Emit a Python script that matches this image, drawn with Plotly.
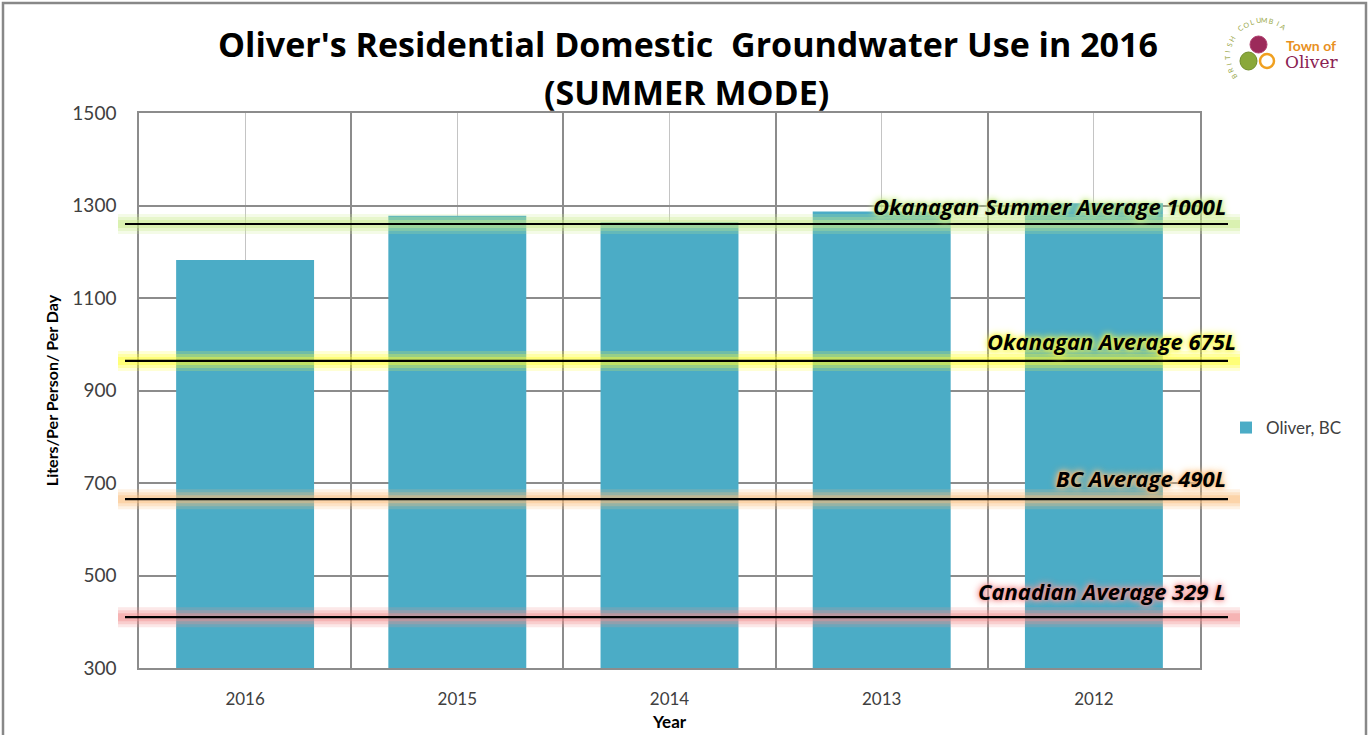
import math
import plotly.graph_objects as go

# ---------------- data ----------------
years = ["2016", "2015", "2014", "2013", "2012"]
usage = [1182, 1278, 1264, 1287, 1305]
series_name = "Oliver, BC"

ref_labels = ["Okanagan Summer Average 1000L", "Okanagan Average 675L",
              "BC Average 490L", "Canadian Average 329 L"]
ref_levels = [1260, 964, 665, 410]

y_ticks = [300, 500, 700, 900, 1100, 1300, 1500]

title_line1 = "Oliver's Residential Domestic  Groundwater Use in 2016"
title_line2 = "(SUMMER MODE)"

# ---------------- styles ----------------
W, H = 1372, 735
ML, MR, MT, MB = 139, 172, 113, 67
PW, PH = W - ML - MR, H - MT - MB

def px(x):
    return (x - ML) / PW

def py(y):
    return 1 - (y - MT) / PH

bar_color = "#4bacc6"
glow_colors = ["#c9ec8a", "#ffff33", "#fbbf7e", "#f28f8f"]
label_shadow = ["#c9ec8a", "#f7f74a", "#fbbf7e", "#f39a9a"]
label_right = [1228, 1238, 1228, 1228]
label_shift = [18, 20, 21, 26]
FONT = "Lato, 'Open Sans', sans-serif"
FONT_B = "'Open Sans', Lato, sans-serif"

fig = go.Figure()
fig.add_trace(go.Bar(
    x=list(range(len(years))), y=usage, name=series_name,
    marker=dict(color=bar_color, line=dict(width=0)),
    width=0.65,
))

shapes = []
annotations = []
x0, x1 = px(125), px(1228)
gx0, gx1 = px(118), px(1240)
for lvl, gc, lab, sc, rx, ys in zip(ref_levels, glow_colors, ref_labels,
                                    label_shadow, label_right, label_shift):
    for w, op in [(20, 0.2), (14, 0.28), (8, 0.4)]:
        shapes.append(dict(type="line", xref="paper", yref="y",
                           x0=gx0, x1=gx1, y0=lvl, y1=lvl, layer="above",
                           line=dict(color=gc, width=w), opacity=op))
    shapes.append(dict(type="line", xref="paper", yref="y",
                       x0=x0, x1=x1, y0=lvl, y1=lvl, layer="above",
                       line=dict(color="black", width=2.2)))
    annotations.append(dict(
        text=lab, xref="paper", yref="y", x=px(rx), y=lvl, yshift=ys,
        xanchor="right", yanchor="middle", showarrow=False,
        font=dict(family=FONT_B, size=22, color="black", weight="bold",
                  style="italic",
                  shadow=f"0 0 3px {sc}, 0 0 6px {sc}, 0 0 8px {sc}")))

# outer chart border
shapes.append(dict(type="rect", xref="paper", yref="paper",
                   x0=px(3), x1=px(1366), y0=py(735 + 5), y1=py(3),
                   line=dict(color="#888888", width=2.5), layer="below"))

# logo
shapes.append(dict(type="circle", xref="paper", yref="paper",
                   x0=px(1250), x1=px(1267), y0=py(53), y1=py(36),
                   fillcolor="#9c2a5a", line=dict(color="#b04070", width=1)))
shapes.append(dict(type="circle", xref="paper", yref="paper",
                   x0=px(1240), x1=px(1257), y0=py(70), y1=py(52),
                   fillcolor="#8aa83a", line=dict(color="#6f8c2a", width=1)))
shapes.append(dict(type="circle", xref="paper", yref="paper",
                   x0=px(1260), x1=px(1274), y0=py(68), y1=py(54),
                   fillcolor="rgba(0,0,0,0)", line=dict(color="#f0a020", width=2.5)))
annotations.append(dict(text="Town of", xref="paper", yref="paper",
                        x=px(1311), y=py(46), showarrow=False,
                        xanchor="center", yanchor="middle",
                        font=dict(family=FONT, size=14, color="#e8901e", weight="bold")))
annotations.append(dict(text="Oliver", xref="paper", yref="paper",
                        x=px(1311), y=py(62), showarrow=False,
                        xanchor="center", yanchor="middle",
                        font=dict(family="'DejaVu Serif', serif", size=17, color="#8b2252")))
arc_text = "BRITISH COLUMBIA"
cx, cy, r = 1263, 56, 36
a_start, a_end = 215, 55
for i, ch in enumerate(arc_text):
    a = math.radians(a_start + (a_end - a_start) * i / (len(arc_text) - 1))
    annotations.append(dict(text=ch, xref="paper", yref="paper",
                            x=px(cx + r * math.cos(a)), y=py(cy - r * math.sin(a)),
                            xanchor="center", yanchor="middle", showarrow=False,
                            textangle=90 - math.degrees(a),
                            font=dict(family=FONT, size=7, color="#9aa84a")))

annotations.append(dict(text="Year", xref="paper", yref="paper",
                        x=px(669), y=py(722), showarrow=False,
                        xanchor="center", yanchor="middle",
                        font=dict(family=FONT, size=17, color="black", weight="bold")))
annotations.append(dict(text=title_line2, xref="paper", yref="paper",
                        x=px(686), y=py(92), showarrow=False,
                        xanchor="center", yanchor="middle",
                        font=dict(family=FONT_B, size=34, color="black", weight="bold")))

fig.update_layout(
    width=W, height=H,
    margin=dict(l=ML, r=MR, t=MT, b=MB, pad=0),
    paper_bgcolor="white", plot_bgcolor="white",
    font=dict(family=FONT, color="#404040"),
    title=dict(text=title_line1,
               xref="container", yref="container",
               x=688 / W, xanchor="center", y=1 - 45 / H, yanchor="middle",
               font=dict(family=FONT_B, size=34, color="black", weight="bold")),
    showlegend=True,
    legend=dict(x=px(1226), y=py(428), xanchor="left", yanchor="middle",
                bgcolor="rgba(0,0,0,0)", font=dict(family=FONT, size=17, color="#404040"),
                itemwidth=30),
    xaxis=dict(range=[-0.5, len(years) - 0.5], tickvals=list(range(len(years))),
               ticktext=years, showgrid=True, gridcolor="#c4c4c4", gridwidth=1.2,
               showline=True, linecolor="#8c8c8c", linewidth=1.5, mirror=True,
               ticks="", ticklabelstandoff=15, zeroline=False,
               tickfont=dict(family=FONT, size=17, color="#404040"),
               minor=dict(tick0=-0.5, dtick=1, showgrid=True,
                          gridcolor="#8c8c8c", gridwidth=1.5)),
    yaxis=dict(range=[300, 1500], tickvals=y_ticks, showgrid=True,
               gridcolor="#8c8c8c", gridwidth=1.5,
               showline=True, linecolor="#8c8c8c", linewidth=1.5, mirror=True,
               ticks="", ticklabelstandoff=17, zeroline=False,
               tickfont=dict(family=FONT, size=19, color="#404040"),
               title=dict(text="Liters/Per Person/ Per Day", standoff=10,
                          font=dict(family=FONT, size=16, color="black", weight="bold"))),
    shapes=shapes,
    annotations=annotations,
)

fig.write_html("out.html")
